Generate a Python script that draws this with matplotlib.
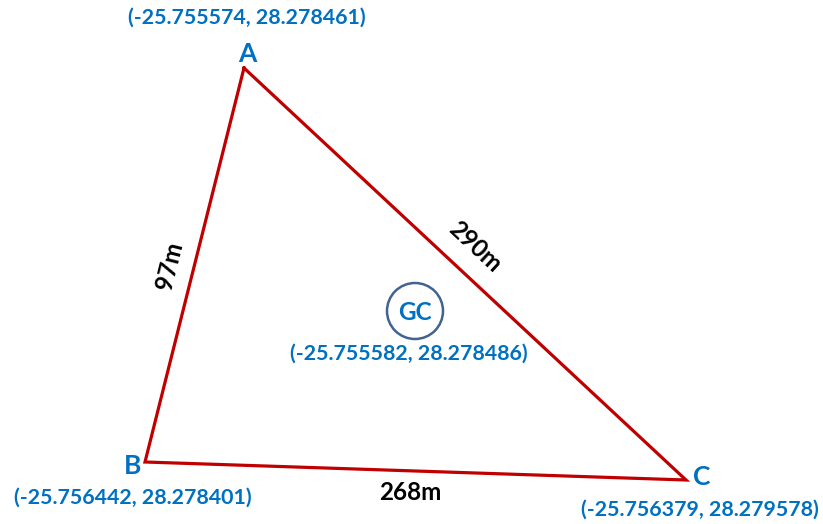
import math
import matplotlib
matplotlib.use("Agg")
import matplotlib.pyplot as plt
from matplotlib.patches import Circle

# ---- data ----
vertex_names = ["A", "B", "C"]
vertex_coords = ["(-25.755574, 28.278461)", "(-25.756442, 28.278401)", "(-25.756379, 28.279578)"]
# schematic drawing positions of the vertices (diagram units)
vertex_x = [244, 145, 686]
vertex_y = [68, 462, 480]
side_labels = ["97m", "290m", "268m"]   # AB, AC, BC
centre_name = "GC"
centre_coords = "(-25.755582, 28.278486)"
centre_x, centre_y = 415, 311

BLUE = "#0070C0"
RED = "#C00000"
FONT = ["Lato", "DejaVu Sans"]

fig = plt.figure(figsize=(8.23, 5.24), dpi=100)
ax = fig.add_axes([0, 0, 1, 1])
ax.set_xlim(0, 823)
ax.set_ylim(524, 0)
ax.axis("off")

# triangle
xs = vertex_x + [vertex_x[0]]
ys = vertex_y + [vertex_y[0]]
ax.plot(xs, ys, color=RED, lw=2.3, solid_joinstyle="miter", zorder=2)

# vertex letters and coordinates
letter_off = [(3, -14), (-12, 4), (16, -3)]
coord_off = [(3, -50), (-12, 36), (14, 30)]
for i, name in enumerate(vertex_names):
    ax.text(vertex_x[i] + letter_off[i][0], vertex_y[i] + letter_off[i][1], name,
            color=BLUE, fontsize=19, fontweight="bold", family=FONT,
            ha="center", va="center")
    ax.text(vertex_x[i] + coord_off[i][0], vertex_y[i] + coord_off[i][1], vertex_coords[i],
            color=BLUE, fontsize=15.4, fontweight="bold", family=FONT,
            ha="center", va="center")

# side labels
def rot(p, q):
    return math.degrees(math.atan2(-(q[1] - p[1]), q[0] - p[0]))

A = (vertex_x[0], vertex_y[0]); B = (vertex_x[1], vertex_y[1]); C = (vertex_x[2], vertex_y[2])
ax.text(170, 266, side_labels[0], rotation=rot(B, A), color="black", fontsize=17.5,
        fontweight="bold", family=FONT, ha="center", va="center", rotation_mode="anchor")
ax.text(475, 247, side_labels[1], rotation=rot(A, C), color="black", fontsize=17.5,
        fontweight="bold", family=FONT, ha="center", va="center", rotation_mode="anchor")
ax.text(410, 493, side_labels[2], color="black", fontsize=17.5,
        fontweight="bold", family=FONT, ha="center", va="center")

# centre
ax.add_patch(Circle((centre_x, centre_y), 28, fill=False, edgecolor="#41638F", lw=1.8, zorder=3))
ax.text(centre_x, centre_y + 1, centre_name, color=BLUE, fontsize=17.5, fontweight="bold",
        family=FONT, ha="center", va="center")
ax.text(centre_x - 6, centre_y + 43, centre_coords, color=BLUE, fontsize=15.4,
        fontweight="bold", family=FONT, ha="center", va="center")

fig.savefig("out.png", dpi=100)
